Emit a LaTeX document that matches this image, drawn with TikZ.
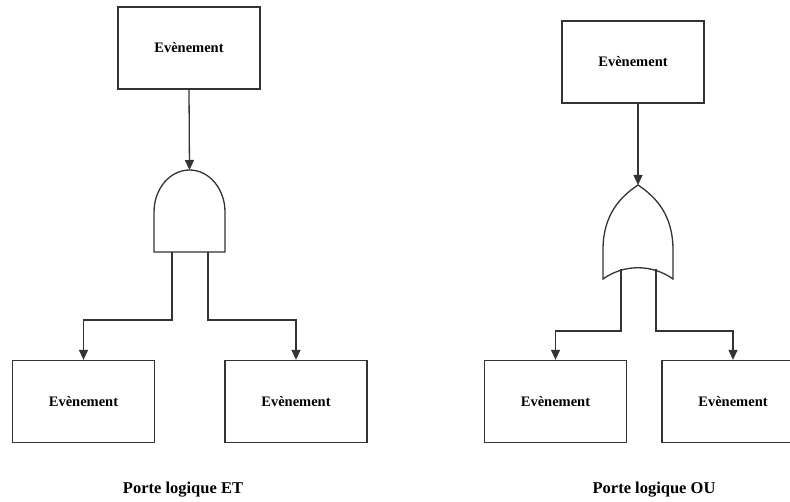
\documentclass[tikz,border=0pt]{standalone}
\usepackage{fontspec}
\setmainfont{Liberation Serif}
\usetikzlibrary{arrows.meta}
\begin{document}
\begin{tikzpicture}[x=1pt,y=-1pt,
  ln/.style={draw=black!80,line width=1.3pt},
  evbox/.style={ln,rectangle,minimum width=142pt,minimum height=82pt,inner sep=0pt,
    font=\fontsize{14.5}{16}\selectfont\bfseries},
  arr/.style={ln,-{Triangle[length=10pt,width=9pt]}},
  captext/.style={font=\fontsize{16.5}{18}\selectfont\bfseries}]
\useasboundingbox (0,0) rectangle (790,502);
\clip (0,0) rectangle (790,502);
% ---------- AND side ----------
\node[evbox] (t1) at (189,48) {Evènement};
\node[evbox] (l1) at (83.5,401.5) {Evènement};
\node[evbox] (r1) at (296,401.5) {Evènement};
\draw[ln,fill=white] (154,252) -- (154,212) arc[start angle=180,end angle=0,x radius=35.5,y radius=-42] -- (225,252) -- cycle;
\coordinate (andtop) at (189.5,170);
\coordinate (andl) at (172,252);
\coordinate (andr) at (208,252);
\draw[arr] (t1.south) -- (andtop);
\draw[arr] (andl) -- (172,320) -| (l1.north);
\draw[arr] (andr) -- (208,320) -| (r1.north);
\node[captext] (c1) at (183,490) {Porte logique ET};
% ---------- OR side ----------
\node[evbox] (t2) at (633,62) {Evènement};
\node[evbox] (l2) at (555.5,401.5) {Evènement};
\node[evbox] (r2) at (733,401.5) {Evènement};
\draw[ln,fill=white] (603,279) -- (603,250) .. controls (603,215) and (620,197) .. (638,185)
  .. controls (656,197) and (673,215) .. (673,250) -- (673,279)
  .. controls (652,264) and (624,264) .. cycle;
\coordinate (ortop) at (638,185);
\coordinate (orl) at (621,269);
\coordinate (orr) at (656,269);
\draw[arr] ([xshift=5pt]t2.south) -- (ortop);
\draw[arr] (orl) -- (621,331) -| (l2.north);
\draw[arr] (orr) -- (656,331) -| (r2.north);
\node[captext] (c2) at (654,490) {Porte logique OU};
\end{tikzpicture}
\end{document}
